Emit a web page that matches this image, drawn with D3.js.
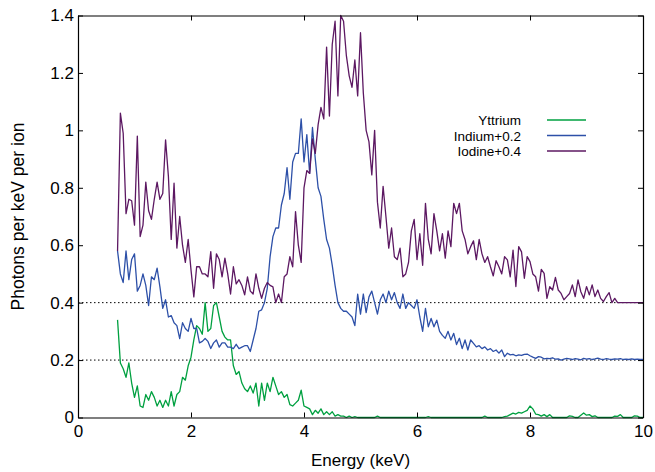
<!DOCTYPE html>
<html>
<head>
<meta charset="utf-8">
<script src="https://cdn.jsdelivr.net/npm/d3@7"></script>
<style>
body { margin: 0; background: #fff; }
text { font-family: "Liberation Sans", Arial, Helvetica, sans-serif; fill: #000; }
</style>
</head>
<body>
<svg id="chart" width="655" height="472"></svg>
<script>
// spectra binned every 0.05 keV starting at 0.70 keV
const binStart = 0.7;
const binWidth = 0.05;

const yttrium = [
  0.34, 0.19, 0.17, 0.14, 0.19, 0.12,
  0.07, 0.11, 0.04, 0.035, 0.08, 0.06, 0.09, 0.07, 0.04, 0.06, 0.035, 0.06, 0.04, 0.09, 0.04, 0.08, 0.09, 0.14, 0.13, 0.18,
  0.21, 0.27, 0.32, 0.31, 0.29, 0.40, 0.30, 0.31, 0.39, 0.40, 0.35, 0.30, 0.28, 0.27, 0.27, 0.18, 0.15, 0.16, 0.12, 0.10,
  0.09, 0.11, 0.085, 0.12, 0.04, 0.12, 0.06, 0.12, 0.09, 0.14, 0.11, 0.08, 0.09, 0.07, 0.08, 0.045, 0.04, 0.05, 0.06, 0.095,
  0.04, 0.035, 0.03, 0.01, 0.025, 0.015, 0.03, 0.01, 0.02, 0.01, 0.02, 0.005, 0.01, 0.005, 0.005, 0, 0.005, 0, 0.003, 0,
  0, 0, 0, 0, 0, 0, 0.005, 0, 0, 0, 0, 0, 0, 0, 0, 0, 0, 0, 0, 0,
  0, 0, 0, 0, 0.003, 0, 0, 0, 0, 0, 0, 0, 0, 0, 0, 0, 0, 0, 0, 0,
  0, 0, 0, 0, 0.005, 0, 0, 0, 0, 0, 0, 0.003, 0.005, 0.01, 0.015, 0.012, 0.018, 0.015, 0.02, 0.025,
  0.04, 0.03, 0.012, 0.01, 0.005, 0.01, 0.003, 0.01, 0, 0, 0, 0, 0, 0, 0.006, 0.004, 0, 0, 0.008, 0.016,
  0.008, 0.01, 0.003, 0.006, 0, 0, 0, 0, 0, 0, 0.005, 0.004, 0.01, 0, 0, 0, 0, 0.006, 0.005, 0,
  0
];

const indium = [
  0.38, 0.30, 0.27, 0.38, 0.28, 0.35,
  0.37, 0.24, 0.26, 0.30, 0.26, 0.19, 0.29, 0.28, 0.32, 0.255, 0.18, 0.21, 0.15, 0.155, 0.13, 0.12, 0.075, 0.13, 0.11, 0.10,
  0.145, 0.11, 0.11, 0.06, 0.065, 0.075, 0.065, 0.04, 0.06, 0.07, 0.045, 0.06, 0.06, 0.045, 0.045, 0.04, 0.055, 0.04, 0.045, 0.05,
  0.05, 0.03, 0.07, 0.11, 0.17, 0.175, 0.20, 0.25, 0.36, 0.43, 0.46, 0.46, 0.54, 0.58, 0.67, 0.56, 0.69, 0.72, 0.72, 0.84,
  0.69, 0.785, 0.65, 0.81, 0.70, 0.60, 0.57, 0.49, 0.42, 0.39, 0.33, 0.26, 0.20, 0.18, 0.17, 0.17, 0.16, 0.15, 0.12, 0.23,
  0.16, 0.23, 0.165, 0.22, 0.24, 0.20, 0.16, 0.21, 0.23, 0.20, 0.24, 0.21, 0.235, 0.20, 0.18, 0.23, 0.18, 0.20, 0.19, 0.18,
  0.21, 0.15, 0.10, 0.18, 0.116, 0.145, 0.116, 0.139, 0.10, 0.086, 0.076, 0.10, 0.07, 0.093, 0.054, 0.076, 0.04, 0.07, 0.035, 0.07,
  0.058, 0.046, 0.05, 0.04, 0.046, 0.035, 0.04, 0.03, 0.035, 0.024, 0.035, 0.012, 0.024, 0.018, 0.02, 0.015, 0.018, 0.016, 0.02, 0.021,
  0.015, 0.01, 0.006, 0.012, 0.01, 0.004, 0.006, 0.005, 0.008, 0.003, 0.004, 0, 0.003, 0.006, 0.004, 0.002, 0.005, 0.003, 0.001, 0.006,
  0.003, 0.005, 0.002, 0.004, 0.007, 0.003, 0.002, 0.005, 0.003, 0.002, 0.004, 0.003, 0.005, 0.002, 0.003, 0.002, 0.004, 0.002, 0.003, 0.002,
  0.002
];

const iodine = [
  0.18, 0.66, 0.59, 0.31, 0.36, 0.355,
  0.27, 0.58, 0.23, 0.27, 0.42, 0.32, 0.29, 0.36, 0.42, 0.36, 0.38, 0.567, 0.44, 0.22, 0.416, 0.19, 0.30, 0.20, 0.14, 0.22,
  0.114, 0.02, 0.125, 0.125, 0.10, 0.10, 0.09, 0.178, 0.05, 0.17, 0.15, 0.09, 0.155, 0.10, 0.03, 0.125, 0.065, 0.08, 0.06, 0.027,
  0.09, 0.04, 0.03, 0.10, 0.05, 0.015, 0.05, 0.07, 0.06, 0.055, 0, 0.03, 0, 0.09, 0.10, 0.16, 0.125, 0.317, 0.20, 0.14,
  0.40, 0.46, 0.45, 0.57, 0.52, 0.62, 0.68, 0.64, 0.89, 0.65, 0.90, 0.98, 0.72, 1.00, 0.98, 0.86, 0.79, 0.75, 0.845, 0.72,
  0.94, 0.73, 0.60, 0.56, 0.445, 0.60, 0.35, 0.26, 0.405, 0.30, 0.19, 0.26, 0.16, 0.15, 0.19, 0.09, 0.10, 0.14, 0.25, 0.29,
  0.15, 0.24, 0.13, 0.346, 0.22, 0.17, 0.31, 0.25, 0.18, 0.24, 0.155, 0.25, 0.195, 0.346, 0.31, 0.346, 0.25, 0.22, 0.17, 0.195,
  0.215, 0.15, 0.22, 0.17, 0.14, 0.16, 0.125, 0.093, 0.146, 0.125, 0.10, 0.16, 0.149, 0.09, 0.183, 0.056, 0.195, 0.177, 0.085, 0.16,
  0.143, 0.10, 0.09, 0.04, 0.116, 0.102, 0.015, 0.056, 0.044, 0.088, 0.044, 0.032, 0.01, 0.021, 0.032, 0.062, 0.021, 0.079, 0.038, 0.015,
  0.056, 0.027, 0.062, 0.021, 0.044, 0.015, 0.004, 0.021, 0.035, 0, 0.015, 0, 0, 0, 0, 0, 0, 0, 0, 0,
  0
];

const seriesNames = ["Yttrium", "Indium+0.2", "Iodine+0.4"];
const seriesOffsets = [0, 0.2, 0.4];
const seriesColors = ["#00a040", "#2d50a8", "#5c1862"];
const xTicks = [0, 2, 4, 6, 8, 10];
const yTicks = [0, 0.2, 0.4, 0.6, 0.8, 1, 1.2, 1.4];
const guideLevels = [0.2, 0.4];

const svg = d3.select("#chart");
const plotLeft = 78, plotRight = 643, plotTop = 15.5, plotBottom = 417.5;

const x = d3.scaleLinear().domain([0, 10]).range([plotLeft, plotRight]);
const y = d3.scaleLinear().domain([0, 1.4]).range([plotBottom, plotTop]);

// dotted offset baselines
svg.selectAll(".guide")
  .data(guideLevels)
  .enter().append("line")
  .attr("class", "guide")
  .attr("x1", plotLeft).attr("x2", plotRight)
  .attr("y1", d => y(d)).attr("y2", d => y(d))
  .attr("stroke", "#000").attr("stroke-width", 1)
  .attr("stroke-dasharray", "1.5,2.5");

const energies = yttrium.map((_, i) => binStart + i * binWidth);
const allSeries = [yttrium, indium, iodine];

const line = d3.line()
  .x(d => x(d[0]))
  .y(d => y(d[1]));

allSeries.forEach((vals, k) => {
  const pts = vals.map((v, i) => [energies[i], v + seriesOffsets[k]]);
  svg.append("path")
    .datum(pts)
    .attr("fill", "none")
    .attr("stroke", seriesColors[k])
    .attr("stroke-width", 1.3)
    .attr("stroke-linejoin", "round")
    .attr("d", line);
});

// axes with inward ticks on all four sides
const fs = "17px";
svg.append("g").attr("transform", "translate(0," + plotBottom + ")")
  .call(d3.axisBottom(x).tickValues(xTicks).tickFormat(d3.format("d")).tickSizeInner(-5).tickSizeOuter(0).tickPadding(7));
svg.append("g").attr("transform", "translate(" + plotLeft + ",0)")
  .call(d3.axisLeft(y).tickValues(yTicks).tickFormat(d => d === 0 || d === 1 ? String(d) : d3.format(".1f")(d)).tickSizeInner(-5).tickSizeOuter(0).tickPadding(4));
svg.append("g").attr("transform", "translate(0," + plotTop + ")")
  .call(d3.axisTop(x).tickValues(xTicks).tickFormat("").tickSizeInner(-5).tickSizeOuter(0));
svg.append("g").attr("transform", "translate(" + plotRight + ",0)")
  .call(d3.axisRight(y).tickValues(yTicks).tickFormat("").tickSizeInner(-5).tickSizeOuter(0));

svg.selectAll(".domain").attr("stroke", "#000").attr("stroke-width", 1.2);
svg.selectAll(".tick line").attr("stroke", "#000");
svg.selectAll(".tick text").attr("font-size", fs).attr("font-family", null).attr("fill", "#000");

svg.append("text")
  .attr("x", (plotLeft + plotRight) / 2).attr("y", 466)
  .attr("text-anchor", "middle").attr("font-size", "17px")
  .text("Energy (keV)");

svg.append("text")
  .attr("transform", "translate(24," + ((plotTop + plotBottom) / 2) + ") rotate(-90)")
  .attr("text-anchor", "middle").attr("font-size", "17.5px")
  .text("Photons per keV per ion");

// legend
const legend = svg.append("g");
seriesNames.forEach((name, k) => {
  const ly = 120 + k * 15.5;
  legend.append("text")
    .attr("x", 521).attr("y", ly + 5)
    .attr("text-anchor", "end").attr("font-size", "13.5px")
    .text(name);
  legend.append("line")
    .attr("x1", 547).attr("x2", 586)
    .attr("y1", ly).attr("y2", ly)
    .attr("stroke", seriesColors[k]).attr("stroke-width", 1.3);
});
</script>
</body>
</html>
